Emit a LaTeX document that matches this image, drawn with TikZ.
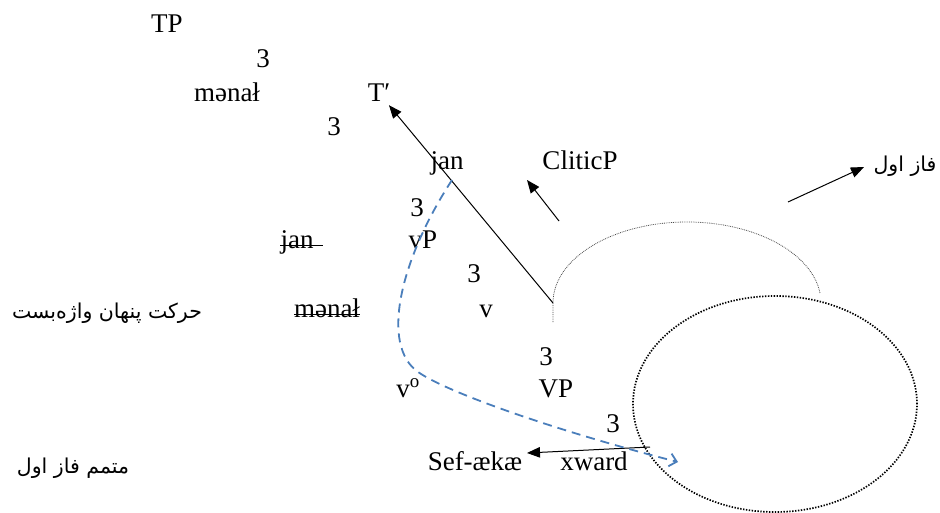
\documentclass[tikz,border=0pt]{standalone}
\usepackage{fontspec}
\setmainfont{Liberation Serif}
\newfontfamily\arabicfont[Script=Arabic]{DejaVu Sans}
\TeXXeTstate=1
\usetikzlibrary{arrows.meta}
\definecolor{movblue}{HTML}{4A7EBB}
\begin{document}
\begin{tikzpicture}[x=1pt,y=-1pt,
  lbl/.style={inner sep=0pt, anchor=base, font=\fontsize{27}{32}\selectfont},
  fa/.style={inner sep=0pt, anchor=base, font=\arabicfont\fontsize{20.5}{24}\selectfont},
  strike/.style={line width=1.2pt},
  pointer/.style={line width=1pt, -{Triangle[length=13pt,width=10.5pt]}},
  move/.style={draw=movblue, line width=1.8pt, dash pattern=on 9pt off 6pt,
    -{Straight Barb[length=7pt,width=13pt,line width=1.8pt]}},
  phasearc/.style={draw=gray!60!black, line width=0.8pt, densely dotted},
  phaseedge/.style={draw=black, line width=1.7pt, dash pattern=on 1.4pt off 1.5pt}
]
\useasboundingbox (0,0) rectangle (940,513);

% tree labels
\node[lbl] (tp)    at (167,33)  {TP};
\node[lbl] (b1)    at (263,68)  {3};
\node[lbl] (mn1)   at (227,102) {mənał};
\node[lbl, inner sep=3pt] (tbar) at (379,102) {T′};
\node[lbl] (b2)    at (334,136) {3};
\node[lbl] (jan1)  at (447,170) {jan};
\node[lbl] (clp)   at (580,170) {CliticP};
\node[lbl] (b3)    at (417,217) {3};
\node[lbl] (jan2)  at (297,248) {jan};
\node[lbl] (vp)    at (423,248) {vP};
\node[lbl] (b4)    at (474,283) {3};
\node[lbl] (mn2)   at (327,317) {mənał};
\node[lbl] (vsm)   at (486,317) {v};
\node[lbl] (b5)    at (546,365) {3};
\node[lbl] (vo)    at (408,397) {v\textsuperscript{o}};
\node[lbl] (VP)    at (556,397) {VP};
\node[lbl] (b6)    at (613,432) {3};
\node[lbl] (sef)   at (475,470) {Sef-ækæ};
\node[lbl] (xw)    at (594,470) {xward};

% Persian labels
\node[fa] (faz)  at (905,172) {\beginR فاز اول\endR};
\node[fa] (cov)  at (107,318) {\beginR حرکت پنهان واژه‌بست\endR};
\node[fa] (comp) at (73,473)  {\beginR متمم فاز اول\endR};

% struck-out copies
\draw[strike] (jan2.mid west) -- ([xshift=9pt]jan2.mid east);
\draw[strike] (mn2.mid west) -- (mn2.mid east);

% phase boundaries
\coordinate (arcfoot) at (553,322);
\coordinate (arctop)  at (553,303);
\draw[phasearc] (arcfoot) -- (arctop)
  arc[start angle=180, end angle=7, x radius=134pt, y radius=81pt];
\draw[phaseedge] (775,404) ellipse [x radius=142pt, y radius=108pt];

% pointers
\draw[pointer] (arctop) -- (tbar);
\coordinate (clfrom) at (559,221);
\coordinate (clto)   at (527,180);
\draw[pointer] (clfrom) -- (clto);
\coordinate (fzfrom) at (788,202);
\coordinate (fzto)   at (864,167);
\draw[pointer] (fzfrom) -- (fzto);
\coordinate (xwfrom) at (650,447);
\coordinate (sefto)  at (527,453);
\draw[pointer] (xwfrom) -- (sefto);

% covert clitic movement
\coordinate (mvfrom) at (452,180);
\coordinate (mvbend) at (418,372);
\coordinate (mvto)   at (678,462);
\draw[move] (mvfrom) .. controls (400,260) and (380,345) .. (mvbend)
  .. controls (448,393) and (560,432) .. (mvto);
\end{tikzpicture}
\end{document}
